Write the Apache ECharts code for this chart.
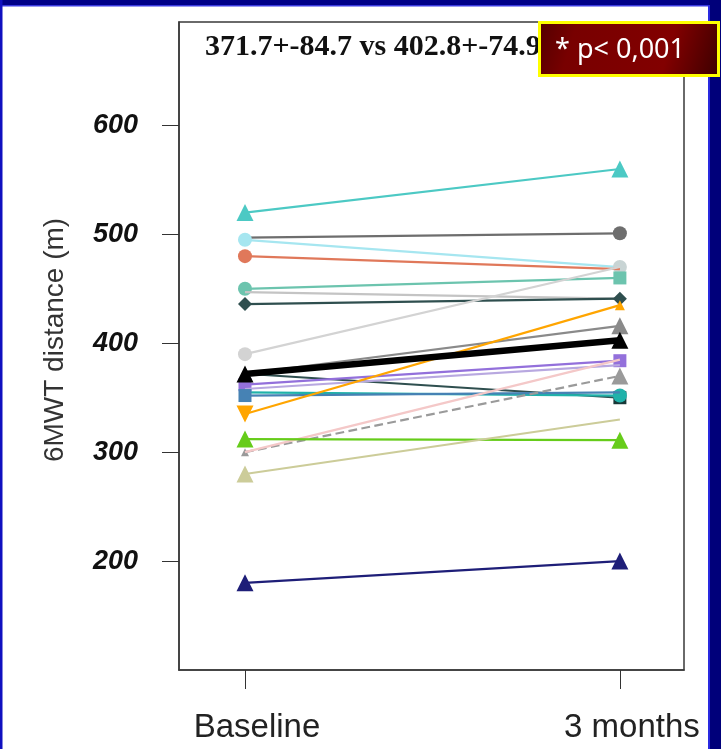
<!DOCTYPE html>
<html>
<head>
<meta charset="utf-8">
<script src="https://cdn.jsdelivr.net/npm/echarts@6/dist/echarts.min.js"></script>
<style>
html,body{margin:0;padding:0;background:#fff;}
#chart{width:721px;height:749px;}
</style>
</head>
<body>
<div id="chart"></div>
<script>
// ---- data ----
const categories = ['Baseline', '3 months'];
const yTickValues = [200, 300, 400, 500, 600];
const baseline = [520, 497, 495, 480, 450, 447, 436, 390, 372, 372, 362, 358, 355, 352, 335, 300, 300, 312, 280, 180];
const months3  = [560, 501, 470, 468, 460, 441, 441, 470, 350, 416, 384, 380, 352, 355, 435, 370, 385, 311, 330, 200];
const meanValues = [371.7, 402.8];
const titleText = '371.7+-84.7 vs 402.8+-74.9';
const pText = '* p< 0,001';
const yName = '6MWT distance (m)';

// ---- styles (kept apart from data) ----
const colors = ['#4CC9C4', '#6E6E6E', '#A6E6F0', '#E0785A', '#6CC4AE', '#C4C4C4', '#2F4F4F', '#D3D3D3', '#2F4F4F', '#8A8A8A',
                '#9370DB', '#B8A8E0', '#20B2AA', '#4682B4', '#FFA500', '#9A9A9A', '#F4C8C8', '#66CC1A', '#CCCC99', '#1E1E78'];
const symbolsB = ['triangle', 'none', 'circle', 'circle', 'circle', 'none', 'diamond', 'circle', 'none', 'none',
                  'rect', 'none', 'none', 'rect', 'triangle', 'triangle', 'none', 'triangle', 'triangle', 'triangle'];
const symbolsM = ['triangle', 'circle', 'circle', 'none', 'rect', 'none', 'diamond', 'none', 'rect', 'triangle',
                  'rect', 'none', 'circle', 'none', 'triangle', 'triangle', 'none', 'triangle', 'none', 'triangle'];
const markerColorsM = [null, null, '#C8D4D4', null, null, null, null, null, '#183838', null,
                       null, null, null, null, null, null, null, null, null, null];

function pointItem(x, v, sym, col, rotate, size) {
  return {
    value: [x, v],
    symbol: sym,
    symbolSize: size,
    symbolRotate: rotate || 0,
    itemStyle: { color: col }
  };
}

const series = [];
for (let i = 0; i < baseline.length; i++) {
  const c = colors[i];
  const rot = (i === 14) ? 180 : 0;
  const sizeB = (i === 15) ? 8 : (symbolsB[i] === 'triangle' ? 17 : (symbolsB[i] === 'rect' ? 13 : 14));
  const sizeM = (symbolsM[i] === 'triangle' ? 17 : (symbolsM[i] === 'rect' ? 13 : 14));
  series.push({
    type: 'line',
    data: [
      pointItem(1, baseline[i], symbolsB[i], c, rot, sizeB),
      pointItem(2, months3[i], symbolsM[i], markerColorsM[i] || c, 0, i === 14 ? 10 : sizeM)
    ],
    lineStyle: { color: c, width: 2.2, type: (i === 15) ? 'dashed' : 'solid' },
    showSymbol: true,
    silent: true,
    animation: false,
    z: 2 + i * 0.01
  });
}
series.push({
  type: 'line',
  data: [pointItem(1, meanValues[0], 'triangle', '#000', 0, 17), pointItem(2, meanValues[1], 'triangle', '#000', 0, 17)],
  lineStyle: { color: '#000', width: 6.5 },
  silent: true,
  animation: false,
  z: 5
});

const chart = echarts.init(document.getElementById('chart'), null, { renderer: 'canvas' });
chart.setOption({
  backgroundColor: '#fff',
  animation: false,
  grid: {
    left: 179, right: 37, top: 22, bottom: 79,
    show: true, borderColor: '#3a3a3a', borderWidth: 1.5, backgroundColor: '#fff'
  },
  xAxis: {
    type: 'value', min: 0.824, max: 2.171,
    splitLine: { show: false },
    axisLine: { show: true, onZero: false, lineStyle: { color: '#3a3a3a', width: 1.5 } },
    axisTick: { show: true, inside: false, length: 19, customValues: [1, 2], lineStyle: { color: '#333', width: 1 } },
    axisLabel: {
      customValues: [1, 2],
      formatter: function (v) { return categories[Math.round(v) - 1]; },
      margin: 41, fontSize: 33, color: '#222',
      fontFamily: 'Liberation Sans, Arial, sans-serif',
      padding: [0, 0, 0, 24]
    }
  },
  yAxis: {
    type: 'value', min: 100, max: 695,
    splitLine: { show: false },
    axisLine: { show: true, lineStyle: { color: '#3a3a3a', width: 1.5 } },
    axisTick: { show: true, inside: false, length: 17, customValues: yTickValues, lineStyle: { color: '#333', width: 1 } },
    axisLabel: {
      customValues: yTickValues,
      margin: 41, fontSize: 27, fontWeight: 'bold', fontStyle: 'italic', color: '#111',
      fontFamily: 'Liberation Sans, Arial, sans-serif'
    }
  },
  graphic: [
    { type: 'text', x: 55, y: 340, rotation: Math.PI / 2, z: 10,
      style: { text: yName, fontSize: 28, fontFamily: 'Liberation Sans, Arial, sans-serif', fill: '#333', align: 'center', verticalAlign: 'middle' } },
    { type: 'text', x: 205, y: 47, z: 10,
      style: { text: titleText, fontSize: 30, fontWeight: 'bold', fontFamily: 'Liberation Serif, Times New Roman, serif', fill: '#111', align: 'left', verticalAlign: 'middle' } },
    // blue frame
    { type: 'rect', shape: { x: 0, y: 0, width: 721, height: 5 }, style: { fill: '#000088' }, z: 20 },
    { type: 'rect', shape: { x: 0, y: 5, width: 721, height: 1.5 }, style: { fill: '#3a3ae0' }, z: 20 },
    { type: 'rect', shape: { x: 0, y: 0, width: 2.5, height: 749 }, style: { fill: '#1010c0' }, z: 20 },
    { type: 'rect', shape: { x: 709, y: 0, width: 12, height: 749 }, style: { fill: '#00007a' }, z: 20 },
    { type: 'rect', shape: { x: 708, y: 5, width: 2, height: 744 }, style: { fill: '#2a2ae0' }, z: 20 },
    // p-value box
    { type: 'rect', shape: { x: 539.5, y: 22.5, width: 179, height: 53 }, z: 30,
      style: {
        fill: new echarts.graphic.LinearGradient(0, 0, 1, 1, [
          { offset: 0, color: '#520000' }, { offset: 0.2, color: '#780000' },
          { offset: 0.7, color: '#820000' }, { offset: 1, color: '#3a0000' }
        ]),
        stroke: '#FFFF00', lineWidth: 3
      } },
    { type: 'text', x: 555, y: 50, z: 31,
      style: { text: pText, fontSize: 27, fontFamily: 'Noto Sans, Open Sans, sans-serif', fill: '#fff', align: 'left', verticalAlign: 'middle' } }
  ],
  series: series
});
</script>
</body>
</html>
